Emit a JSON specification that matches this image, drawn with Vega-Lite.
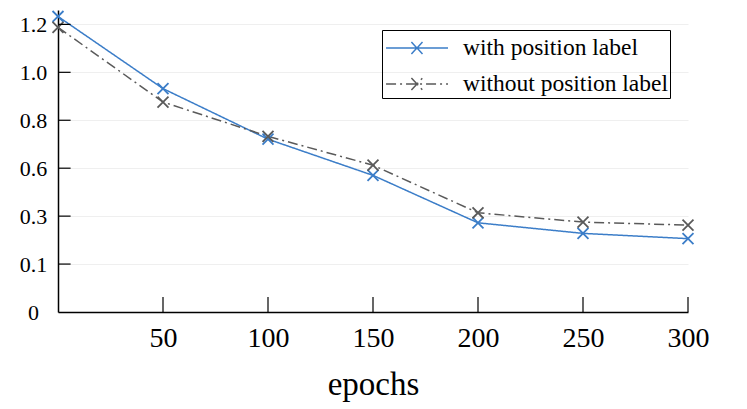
{
  "$schema": "https://vega.github.io/schema/vega-lite/v6.json",
  "width": 630,
  "height": 302,
  "autosize": {"type": "none"},
  "padding": {"left": 58, "top": 10, "right": 59, "bottom": 97},
  "background": "white",
  "config": {
    "view": {"stroke": null},
    "font": "Liberation Serif",
    "axis": {"labelFont": "Liberation Serif", "titleFont": "Liberation Serif", "labelColor": "black", "titleColor": "black", "domainColor": "black", "domainWidth": 1.5, "ticks": false, "tickSize": 0, "gridColor": "#efefef", "gridWidth": 1},
    "legend": {"labelFont": "Liberation Serif", "labelFontSize": 23.5, "labelColor": "black"}
  },
  "datasets": {
    "loss": [
      {"epoch": 0, "loss": 1.233, "series": "with position label"},
      {"epoch": 50, "loss": 0.932, "series": "with position label"},
      {"epoch": 100, "loss": 0.721, "series": "with position label"},
      {"epoch": 150, "loss": 0.570, "series": "with position label"},
      {"epoch": 200, "loss": 0.372, "series": "with position label"},
      {"epoch": 250, "loss": 0.328, "series": "with position label"},
      {"epoch": 300, "loss": 0.306, "series": "with position label"},
      {"epoch": 0, "loss": 1.1875, "series": "without position label"},
      {"epoch": 50, "loss": 0.876, "series": "without position label"},
      {"epoch": 100, "loss": 0.733, "series": "without position label"},
      {"epoch": 150, "loss": 0.6125, "series": "without position label"},
      {"epoch": 200, "loss": 0.414, "series": "without position label"},
      {"epoch": 250, "loss": 0.375, "series": "without position label"},
      {"epoch": 300, "loss": 0.3625, "series": "without position label"}
    ],
    "xticks": [{"epoch": 50}, {"epoch": 100}, {"epoch": 150}, {"epoch": 200}, {"epoch": 250}, {"epoch": 300}],
    "yticks": [{"loss": 0.2}, {"loss": 0.4}, {"loss": 0.6}, {"loss": 0.8}, {"loss": 1.0}, {"loss": 1.2}]
  },
  "layer": [
    {
      "data": {"name": "loss"},
      "mark": {"type": "line", "strokeWidth": 1.5},
      "encoding": {
        "x": {
          "field": "epoch", "type": "quantitative",
          "scale": {"domain": [0, 300], "nice": false, "zero": false},
          "axis": {"values": [0, 50, 100, 150, 200, 250, 300], "labelExpr": "datum.value == 0 ? '' : datum.label", "labelPadding": 12, "labelFontSize": 28, "grid": false, "title": "epochs", "titleFontSize": 33, "titleFontWeight": "normal", "titlePadding": 16, "labelFlush": false}
        },
        "y": {
          "field": "loss", "type": "quantitative",
          "scale": {"domain": [0, 1.26], "nice": false},
          "axis": {"values": [0, 0.2, 0.4, 0.6, 0.8, 1.0, 1.2], "labelExpr": "datum.value == 0 ? '0' : datum.value == 0.2 ? '0.1' : datum.value == 0.4 ? '0.3' : format(datum.value, '.1f')", "labelPadding": 25, "labelFontSize": 22, "labelAlign": "center", "labelFlush": false, "grid": true, "title": null}
        },
        "color": {
          "field": "series", "type": "nominal",
          "scale": {"domain": ["with position label", "without position label"], "range": ["#3b7dc8", "#5a5a5a"]},
          "legend": {"title": null, "orient": "none", "legendX": 324, "legendY": 20, "strokeColor": "black", "padding": 2, "rowPadding": 8, "symbolType": "M-0.93,0H3.2M0.76,-0.4L1.5,0.4M0.76,0.4L1.5,-0.4", "symbolSize": 900, "symbolStrokeWidth": 1.5, "labelOffset": 47, "labelLimit": 400}
        },
        "strokeDash": {
          "field": "series", "type": "nominal",
          "scale": {"domain": ["with position label", "without position label"], "range": [[1, 0], [10, 4, 2, 4]]},
          "legend": {"title": null, "orient": "none", "legendX": 324, "legendY": 20, "strokeColor": "black", "padding": 2, "rowPadding": 8, "symbolType": "M-0.93,0H3.2M0.76,-0.4L1.5,0.4M0.76,0.4L1.5,-0.4", "symbolSize": 900, "symbolStrokeWidth": 1.5, "labelOffset": 47, "labelLimit": 400}
        }
      }
    },
    {
      "data": {"name": "loss"},
      "mark": {"type": "point", "shape": "M-1,-1L1,1M-1,1L1,-1", "filled": false, "size": 120, "strokeWidth": 1.8, "opacity": 1},
      "encoding": {
        "x": {"field": "epoch", "type": "quantitative"},
        "y": {"field": "loss", "type": "quantitative"},
        "color": {"field": "series", "type": "nominal"}
      }
    },
    {
      "data": {"name": "xticks"},
      "mark": {"type": "rule", "color": "black", "strokeWidth": 1.2},
      "encoding": {
        "x": {"field": "epoch", "type": "quantitative"},
        "y": {"datum": 0},
        "y2": {"datum": 0.0626}
      }
    },
    {
      "data": {"name": "yticks"},
      "mark": {"type": "rule", "color": "black", "strokeWidth": 1.2},
      "encoding": {
        "y": {"field": "loss", "type": "quantitative"},
        "x": {"datum": 0},
        "x2": {"datum": 6}
      }
    }
  ]
}
